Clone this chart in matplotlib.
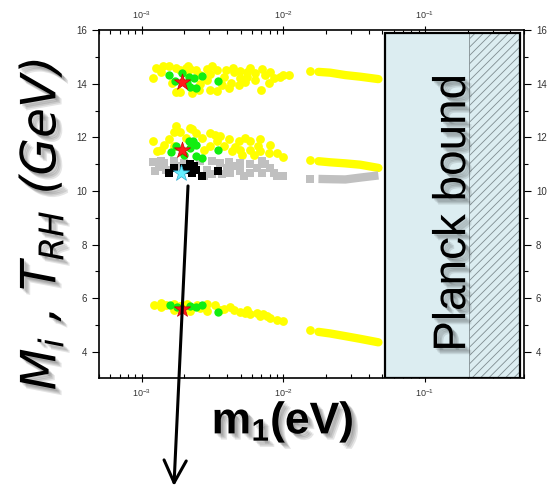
import matplotlib.pyplot as plt
import matplotlib.patheffects as pe
import matplotlib.transforms as mtransforms
from matplotlib.patches import Rectangle
from matplotlib.ticker import LogLocator, MultipleLocator, NullFormatter

plt.rcParams["font.family"] = ["Liberation Sans", "DejaVu Sans"]
plt.rcParams["hatch.color"] = "#7f8c90"
plt.rcParams["hatch.linewidth"] = 0.6

# m1 (eV) and mass / T_RH (log10 GeV)
top_yel_m = [1.27e-3, 1.21e-3, 1.42e-3, 1.55e-3, 1.36e-3, 1.74e-3, 2.14e-3, 1.88e-3, 2.40e-3, 2.90e-3,
             3.41e-3, 3.91e-3, 4.47e-3, 4.98e-3, 5.55e-3, 6.35e-3, 7.47e-3, 8.55e-3, 1.00e-2, 9.52e-3,
             6.35e-3, 7.88e-3, 6.97e-3, 4.84e-3, 4.12e-3, 3.41e-3, 3.06e-3, 2.53e-3, 2.27e-3, 1.88e-3,
             1.74e-3, 1.65e-3, 2.90e-3, 3.79e-3, 4.98e-3, 5.55e-3, 4.24e-3, 3.70e-3, 2.60e-3, 2.10e-3,
             3.06e-3, 2.21e-3, 5.86e-3, 2.04e-3, 3.16e-3, 4.38e-3, 7.09e-3, 5.40e-3, 2.60e-3, 8.10e-3,
             1.09e-2]
top_yel_M = [14.60, 14.23, 14.66, 14.67, 14.42, 14.57, 14.67, 14.51, 14.51, 14.54,
             14.51, 14.51, 14.44, 14.48, 14.44, 14.41, 14.32, 14.23, 14.32, 14.26,
             14.14, 14.01, 13.77, 13.95, 13.83, 13.73, 13.77, 13.77, 13.64, 13.70,
             13.68, 14.01, 14.14, 14.26, 14.20, 14.26, 14.04, 13.95, 14.32, 14.38,
             14.37, 14.56, 14.59, 14.59, 14.67, 14.59, 14.56, 14.07, 14.00, 14.44,
             14.33]
top_grn_m = [1.57e-3, 1.71e-3, 1.94e-3, 2.15e-3, 2.33e-3, 2.67e-3, 3.47e-3, 2.21e-3, 2.40e-3, 2.10e-3]
top_grn_M = [14.32, 14.11, 14.38, 14.26, 14.23, 14.28, 14.11, 13.89, 13.85, 14.01]

mid_yel_m = [1.74e-3, 2.21e-3, 1.21e-3, 1.28e-3, 1.44e-3, 1.69e-3, 1.88e-3, 2.27e-3, 3.06e-3, 2.68e-3,
             3.60e-3, 4.12e-3, 4.84e-3, 5.86e-3, 6.89e-3, 8.10e-3, 9.03e-3, 1.00e-2, 7.88e-3, 6.89e-3,
             5.86e-3, 4.98e-3, 4.35e-3, 3.79e-3, 3.06e-3, 3.41e-3, 2.74e-3, 1.56e-3, 1.69e-3, 1.36e-3,
             5.12e-3, 6.17e-3, 3.32e-3, 5.40e-3, 4.59e-3, 6.66e-3, 2.04e-3, 2.40e-3]
mid_yel_M = [12.41, 12.34, 11.88, 11.48, 11.73, 12.19, 12.19, 12.31, 12.16, 11.97,
             12.04, 11.94, 11.85, 11.85, 11.94, 11.73, 11.42, 11.27, 11.42, 11.48,
             11.54, 11.54, 11.48, 11.67, 11.67, 11.85, 11.54, 11.92, 11.67, 11.52,
             11.36, 11.36, 12.07, 11.96, 11.63, 11.67, 11.96, 12.15]
mid_grn_m = [1.74e-3, 2.15e-3, 2.31e-3, 2.40e-3, 2.21e-3, 1.99e-3, 2.40e-3, 2.68e-3, 1.60e-3, 3.47e-3]
mid_grn_M = [11.67, 11.85, 11.85, 11.73, 11.60, 11.36, 11.32, 11.23, 11.44, 11.54]

gray_m = [1.21e-3, 1.32e-3, 1.25e-3, 1.44e-3, 1.48e-3, 1.69e-3, 1.99e-3, 2.60e-3, 3.15e-3, 3.60e-3,
          4.12e-3, 4.98e-3, 5.86e-3, 7.08e-3, 4.98e-3, 4.23e-3, 3.70e-3, 5.86e-3, 7.08e-3, 8.55e-3,
          1.00e-2, 9.03e-3, 2.90e-3, 4.01e-3, 6.53e-3, 8.10e-3, 5.25e-3, 2.74e-3, 1.82e-3, 4.59e-3,
          7.47e-3, 3.16e-3, 1.36e-3]
gray_M = [11.07, 10.90, 10.74, 11.05, 10.80, 11.11, 11.05, 11.11, 11.11, 11.05,
          11.07, 11.05, 10.99, 11.11, 10.74, 10.68, 10.62, 10.68, 10.68, 10.68,
          10.56, 10.56, 10.80, 10.86, 10.86, 10.86, 10.56, 10.56, 10.93, 10.93,
          11.00, 10.63, 11.11]
blk_m = [1.69e-3, 1.56e-3, 2.21e-3, 2.33e-3, 2.15e-3, 2.40e-3, 2.27e-3, 2.68e-3, 3.44e-3, 1.99e-3]
blk_M = [10.86, 10.68, 10.99, 10.95, 10.80, 10.80, 10.68, 10.56, 10.74, 10.86]

low_yel_m = [1.22e-3, 1.36e-3, 1.48e-3, 1.69e-3, 2.10e-3, 2.47e-3, 2.90e-3, 3.32e-3, 3.79e-3, 4.47e-3,
             4.98e-3, 5.86e-3, 6.89e-3, 8.10e-3, 1.00e-2, 9.03e-3, 4.23e-3, 5.55e-3, 6.53e-3, 2.90e-3,
             1.69e-3, 2.21e-3, 7.67e-3, 1.88e-3, 2.60e-3, 3.60e-3, 7.22e-3, 5.40e-3, 1.36e-3]
low_yel_M = [5.74, 5.68, 5.74, 5.80, 5.80, 5.74, 5.78, 5.74, 5.62, 5.56,
             5.49, 5.41, 5.33, 5.25, 5.16, 5.21, 5.68, 5.56, 5.46, 5.53,
             5.58, 5.53, 5.33, 5.70, 5.63, 5.56, 5.41, 5.44, 5.81]
low_grn_m = [1.58e-3, 2.21e-3, 2.40e-3, 2.68e-3, 3.47e-3, 1.78e-3]
low_grn_M = [5.74, 5.70, 5.68, 5.74, 5.49, 5.68]

star_m = [1.93e-3, 1.93e-3, 1.93e-3]
star_M = [14.05, 11.52, 5.62]
cyan_m = [1.91e-3]
cyan_M = [10.68]

# dense streaks beyond 1e-2 eV
dot_m = [1.55e-2, 1.55e-2, 1.55e-2]
dot_M = [14.47, 11.15, 4.81]
gray_dot_M = [10.46]
streak_m = [1.77e-2, 2.14e-2, 2.74e-2, 3.49e-2, 4.69e-2]
top_streak_M = [14.44, 14.41, 14.32, 14.26, 14.17]
mid_streak_M = [11.11, 11.07, 11.03, 10.98, 10.86]
gray_streak_M = [10.45, 10.44, 10.43, 10.50, 10.58]
low_streak_M = [4.75, 4.69, 4.59, 4.49, 4.36]

planck_lo, hatch_lo, planck_hi = 0.052, 0.204, 0.47

YEL = "#ffff00"
GRN = "#11ee11"
GRY = "#c0c0c0"

fig = plt.figure(figsize=(5.47, 4.88), dpi=100)
ax = fig.add_axes([0.181, 0.2254, 0.777, 0.7131])
ax.set_xscale("log")
ax.set_xlim(5e-4, 0.5)
ax.set_ylim(3.03, 16.0)

# streaks
for M in [top_streak_M, mid_streak_M, low_streak_M]:
    ax.plot(streak_m, M, color=YEL, lw=6, solid_capstyle="round", zorder=2)
ax.plot(streak_m, gray_streak_M, color=GRY, lw=6, solid_capstyle="butt", zorder=2)
ax.scatter(dot_m, dot_M, s=40, color=YEL, lw=0, zorder=2)
ax.scatter(dot_m[:1], gray_dot_M, s=32, marker="s", color=GRY, lw=0, zorder=2)

# scattered points
for m, M in [(top_yel_m, top_yel_M), (mid_yel_m, mid_yel_M), (low_yel_m, low_yel_M)]:
    ax.scatter(m, M, s=40, color=YEL, lw=0, zorder=3)
ax.scatter(gray_m, gray_M, s=32, marker="s", color=GRY, lw=0, zorder=3)
for m, M in [(top_grn_m, top_grn_M), (mid_grn_m, mid_grn_M), (low_grn_m, low_grn_M)]:
    ax.scatter(m, M, s=36, color=GRN, lw=0, zorder=4)
ax.scatter(blk_m, blk_M, s=28, marker="s", color="black", lw=0, zorder=4)
ax.scatter(star_m, star_M, s=150, marker="*", color="#ff1a1a", edgecolors="#cc0000", lw=0.5, zorder=5)
ax.scatter(cyan_m, cyan_M, s=150, marker="*", color="#66f0ff", edgecolors="#33aacc", lw=0.5, zorder=5)

# Planck bound box
trans = mtransforms.blended_transform_factory(ax.transData, ax.transAxes)
ax.add_patch(Rectangle((hatch_lo, 0), planck_hi - hatch_lo, 0.99, transform=trans,
                       facecolor="#dcedf1", edgecolor="#7f8c90", hatch="////", lw=0.6, zorder=6))
ax.add_patch(Rectangle((planck_lo, 0), hatch_lo - planck_lo, 0.99, transform=trans,
                       facecolor="#dcedf1", edgecolor="none", zorder=6))
ax.add_patch(Rectangle((planck_lo, 0), planck_hi - planck_lo, 0.99, transform=trans,
                       facecolor="none", edgecolor="black", lw=1.6, zorder=7))

shadow = [pe.SimplePatchShadow(offset=(o, -o), shadow_rgbFace="black", alpha=0.1) for o in (1.5, 2.5, 3.5, 4.5)]
shadow.append(pe.Normal())

ax.text(0.158, 0.475, "Planck bound", transform=trans, rotation=90, fontsize=33,
        ha="center", va="center", color="black", zorder=8, path_effects=shadow)

# ticks
ax.xaxis.set_major_locator(LogLocator(base=10, numticks=10))
ax.xaxis.set_minor_locator(LogLocator(base=10, subs=range(2, 10), numticks=20))
ax.xaxis.set_minor_formatter(NullFormatter())
ax.yaxis.set_major_locator(MultipleLocator(2))
ax.yaxis.set_minor_locator(MultipleLocator(1))
ax.tick_params(which="both", top=True, right=True, labeltop=True, labelright=True,
               labelsize=7, labelcolor="#333333", width=0.8)
ax.tick_params(axis="x", which="major", direction="inout", length=6, labelsize=6.5)
ax.tick_params(axis="x", which="minor", direction="in", length=3)
ax.tick_params(axis="y", which="major", direction="out", length=5)
ax.tick_params(axis="y", which="minor", direction="out", length=3)
for s in ax.spines.values():
    s.set_linewidth(1.2)

# axis titles
fig.text(0.074, 0.54, r"M$_\mathregular{i}$ , T$_\mathregular{RH}$ (GeV)", rotation=90,
         fontsize=35, style="italic", family="DejaVu Sans", ha="center", va="center",
         path_effects=shadow)
fig.text(0.517, 0.135, r"m$_\mathregular{1}$(eV)", fontsize=32, weight="bold",
         ha="center", va="center", path_effects=shadow)

# arrow pointing out of the black-square cluster
ax.annotate("", xy=(0.318, 0.004), xycoords="figure fraction",
            xytext=(0.3437, 0.619), textcoords="figure fraction",
            arrowprops=dict(arrowstyle="->,head_length=0.8,head_width=0.4", lw=2.2,
                            color="black", mutation_scale=20, shrinkA=0, shrinkB=0),
            annotation_clip=False, zorder=10)

fig.savefig("out.png", dpi=100)
